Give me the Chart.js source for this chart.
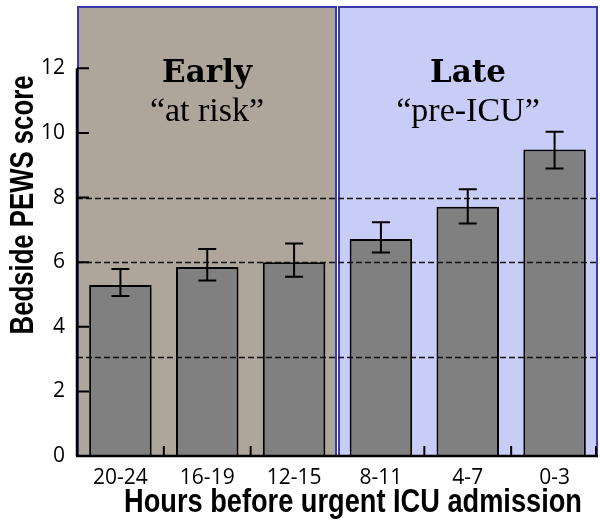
<!DOCTYPE html>
<html>
<head>
<meta charset="utf-8">
<script src="https://cdn.jsdelivr.net/npm/chart.js@4"></script>
<style>
  html, body { margin: 0; padding: 0; background: #fff; }
  #wrap { width: 600px; height: 528px; position: relative; }
</style>
</head>
<body>
<div id="wrap"><canvas id="pewsChart"></canvas></div>
<script>
// data
var hours = ['20-24', '16-19', '12-15', '8-11', '4-7', '0-3'];
var pewsMean = [5.29, 5.85, 6.0, 6.72, 7.72, 9.49];
var errLow = [4.95, 5.43, 5.55, 6.30, 7.20, 8.90];
var errHigh = [5.79, 6.41, 6.58, 7.24, 8.26, 10.04];
var yTicks = [0, 2, 4, 6, 8, 10, 12];
var refLines = [3.05, 6, 8];
var phaseNames = ['Early', 'Late'];
var phaseLabels = ['\u201Cat risk\u201D', '\u201Cpre-ICU\u201D'];
var phaseStart = [0, 3];   // first category index of each phase
var phaseEnd = [2, 5];
var phaseFill = ['#aea59b', '#c8cdf8'];

var ctx = document.getElementById('pewsChart').getContext('2d');

// condensed bold sans title (squeeze Liberation Sans horizontally)
function narrowText(c, text, x, y, angle, size, squeeze) {
  c.save();
  c.translate(x, y);
  if (angle) c.rotate(angle);
  c.scale(squeeze, 1);
  c.font = 'bold ' + size + 'px "Liberation Sans", Arial, sans-serif';
  c.textAlign = 'center';
  c.textBaseline = 'alphabetic';
  c.fillStyle = '#000';
  c.fillText(text, 0, 0);
  c.restore();
}

var pewsPlugin = {
  id: 'pewsDecor',
  beforeDatasetsDraw: function(chart) {
    var c = chart.ctx, x = chart.scales.x, area = chart.chartArea;
    var half = (x.getPixelForValue(1) - x.getPixelForValue(0)) / 2;
    c.save();
    // phase boxes
    for (var i = 0; i < phaseNames.length; i++) {
      var l = x.getPixelForValue(phaseStart[i]) - half;
      var r = x.getPixelForValue(phaseEnd[i]) + half;
      l = i === 0 ? l + 1 : l + 1.5;
      r = i === 0 ? r - 1.5 : r - 1;
      c.fillStyle = phaseFill[i];
      c.fillRect(l, area.top, r - l, area.bottom - area.top);
      c.strokeStyle = '#3a3aa8';
      c.lineWidth = 2;
      c.strokeRect(l, area.top, r - l, area.bottom - area.top);
      var cx = (l + r) / 2;
      c.fillStyle = '#000';
      c.textAlign = 'center';
      c.textBaseline = 'alphabetic';
      c.font = 'bold 31px "DejaVu Serif", "Liberation Serif", serif';
      c.fillText(phaseNames[i], cx, 82);
      c.font = '34px "Liberation Serif", "DejaVu Serif", serif';
      c.fillText(phaseLabels[i], cx, 121);
    }
    c.restore();
  },
  afterDatasetsDraw: function(chart) {
    var c = chart.ctx, x = chart.scales.x, y = chart.scales.y, area = chart.chartArea;
    var half = (x.getPixelForValue(1) - x.getPixelForValue(0)) / 2;
    c.save();
    // dashed reference lines
    c.strokeStyle = '#111';
    c.lineWidth = 1.3;
    c.setLineDash([6, 3]);
    refLines.forEach(function(v) {
      var py = Math.round(y.getPixelForValue(v)) + 0.5;
      c.beginPath();
      c.moveTo(area.left, py);
      c.lineTo(area.right, py);
      c.stroke();
    });
    c.setLineDash([]);
    // error bars
    c.strokeStyle = '#000';
    c.lineWidth = 2;
    for (var i = 0; i < hours.length; i++) {
      var px = x.getPixelForValue(i);
      var yl = y.getPixelForValue(errLow[i]), yh = y.getPixelForValue(errHigh[i]);
      c.beginPath();
      c.moveTo(px, yl); c.lineTo(px, yh);
      c.moveTo(px - 9, yh); c.lineTo(px + 9, yh);
      c.moveTo(px - 9, yl); c.lineTo(px + 9, yl);
      c.stroke();
    }
    // axes lines
    var y0 = y.getPixelForValue(0), y12 = y.getPixelForValue(yTicks[yTicks.length - 1]);
    c.lineWidth = 2.5;
    c.beginPath();
    c.moveTo(area.left, y0); c.lineTo(area.left, y12);
    c.moveTo(area.left - 1, y0); c.lineTo(area.right, y0);
    c.stroke();
    // inward ticks
    c.lineWidth = 2;
    c.beginPath();
    yTicks.forEach(function(v) {
      var py = y.getPixelForValue(v);
      c.moveTo(area.left, py); c.lineTo(area.left + 12, py);
    });
    for (var k = 1; k <= hours.length; k++) {
      var tx = x.getPixelForValue(k - 1) + half;
      if (k === 3) continue;
      if (k === hours.length) tx = area.right - 2;
      c.moveTo(tx, y0); c.lineTo(tx, y0 - 10);
    }
    c.stroke();
    c.restore();
    // axis titles
    narrowText(c, 'Hours before urgent ICU admission', 353, 512, 0, 34, 0.8);
    narrowText(c, 'Bedside PEWS score', 33, 205, -Math.PI / 2, 33, 0.78);
  }
};

var pewsChart = new Chart(ctx, {
  type: 'bar',
  data: {
    labels: hours,
    datasets: [{
      label: 'Bedside PEWS score',
      data: pewsMean,
      backgroundColor: '#808080',
      borderColor: '#000',
      borderWidth: 2,
      categoryPercentage: 0.8,
      barPercentage: 0.9
    }]
  },
  options: {
    responsive: true,
    maintainAspectRatio: false,
    animation: false,
    layout: { padding: { top: 7, right: 2, left: 0, bottom: 0 } },
    plugins: {
      legend: { display: false },
      tooltip: { enabled: false }
    },
    scales: {
      x: {
        grid: { display: false, drawTicks: false },
        border: { display: false },
        ticks: {
          color: '#000',
          padding: 9,
          font: { family: '"Open Sans", sans-serif', size: 21 }
        },
        afterFit: function(scale) {
          scale.height = 72;
          scale.paddingLeft = 0;
          scale.paddingRight = 0;
        }
      },
      y: {
        min: 0,
        max: 13.9,
        grid: { display: false, drawTicks: false },
        border: { display: false },
        afterBuildTicks: function(scale) {
          scale.ticks = yTicks.map(function(v) { return { value: v }; });
        },
        ticks: {
          color: '#000',
          padding: 12,
          font: { family: '"Open Sans", sans-serif', size: 21 }
        },
        afterFit: function(scale) {
          scale.width = 77;
          scale.paddingTop = 0;
          scale.paddingBottom = 0;
        }
      }
    }
  },
  plugins: [pewsPlugin]
});
</script>
</body>
</html>
